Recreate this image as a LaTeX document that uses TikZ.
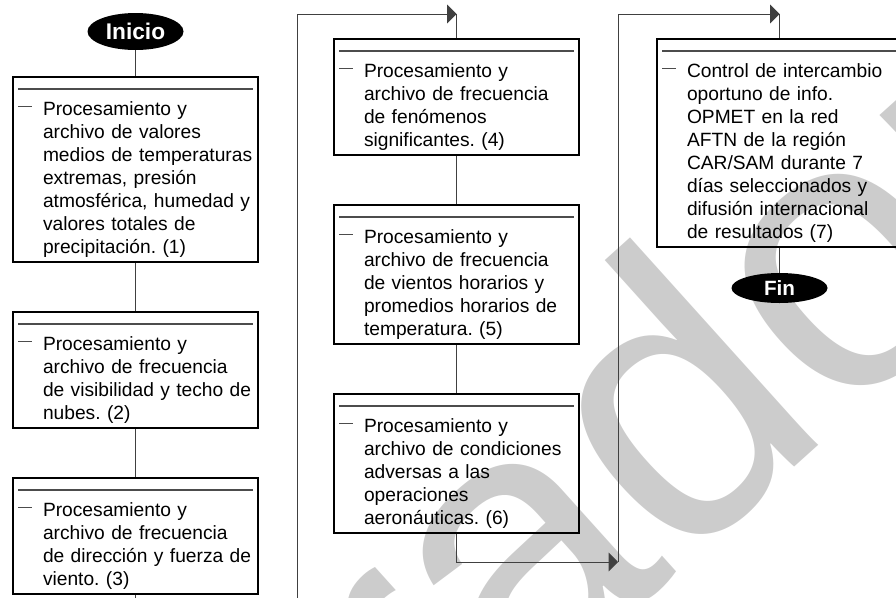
\documentclass[tikz,border=0pt]{standalone}
\usepackage{fontspec}
\setmainfont{Liberation Sans}
\usepackage{tikz}
\usetikzlibrary{positioning}
\usetikzlibrary{shapes.geometric}
\usetikzlibrary{arrows.meta}
\definecolor{marca}{RGB}{204,204,204}
\newcommand{\arriba}{\rule{0pt}{28.5pt}}
\newcommand{\abajo}{\rule[-6.75pt]{0pt}{6.75pt}}
\frenchspacing

\begin{document}
\begin{tikzpicture}[x=0.75pt,y=-0.75pt,node distance=36pt,
  caja/.style={draw,line width=1.5pt,inner sep=0pt,text width=183.75pt,
    font=\fontsize{14.4pt}{17.25pt}\selectfont,
    execute at begin node={\raggedright\leftskip=22.5pt\arriba},
    execute at end node={\abajo},
    path picture={
      \draw[line width=0.8pt,black!70]
        ([xshift=3.75pt,yshift=-9pt]path picture bounding box.north west) --
        ([xshift=-3.75pt,yshift=-9pt]path picture bounding box.north east)
        ([xshift=3.75pt,yshift=-22.25pt]path picture bounding box.north west) --
        ([xshift=14.25pt,yshift=-22.25pt]path picture bounding box.north west);}},
  extremo/.style={ellipse,fill=black,text=white,inner sep=0pt,minimum width=72pt},
  flujo/.style={line width=0.75pt,black!75},
  punta/.style={flujo,-{Triangle[length=7pt,width=14pt]}}]
  \useasboundingbox (0,0) rectangle (896,597);
  \clip (0,0) rectangle (896,597);
  \node[text=marca,rotate=42,anchor=base west,inner sep=0pt,
    font=\fontsize{290pt}{290pt}\selectfont] (sello) at (-25,1205) {Borrador};

  \node[extremo,minimum height=27.75pt,font=\fontsize{17pt}{17pt}\selectfont\bfseries] (inicio) at (135.5,31.5) {Inicio};
  \node[caja,anchor=north west] (b1) at (12,76) {Procesamiento y\\archivo de valores\\medios de temperaturas\\extremas, presión\\atmosférica, humedad y\\valores totales de\\precipitación. (1)};
  \node[caja,below=of b1] (b2) {Procesamiento y\\archivo de frecuencia\\de visibilidad y techo de\\nubes. (2)};
  \node[caja,below=of b2] (b3) {Procesamiento y\\archivo de frecuencia\\de dirección y fuerza de\\viento. (3)};

  \node[caja,anchor=north west] (b4) at (333,38) {Procesamiento y\\archivo de frecuencia\\de fenómenos\\significantes. (4)};
  \node[caja,below=of b4] (b5) {Procesamiento y\\archivo de frecuencia\\de vientos horarios y\\promedios horarios de\\temperatura. (5)};
  \node[caja,below=of b5] (b6) {Procesamiento y\\archivo de condiciones\\adversas a las\\operaciones\\aeronáuticas. (6)};

  \node[caja,anchor=north west] (b7) at (656,38) {Control de intercambio\\oportuno de info.\\OPMET en la red\\AFTN de la región\\CAR/SAM durante 7\\días seleccionados y\\difusión internacional\\de resultados (7)};
  \node[extremo,minimum height=22.5pt,font=\fontsize{15.5pt}{15.5pt}\selectfont\bfseries] (fin) at (779.5,288) {Fin};

  \coordinate (tope) at (0,14);
  \coordinate (bajo1) at (297,620);
  \coordinate (bajo2) at (618,562);

  \draw[flujo] (inicio) -- (b1);
  \draw[flujo] (b1) -- (b2);
  \draw[flujo] (b2) -- (b3);
  \draw[punta] (b3.south) |- (bajo1) |- (b4.north |- tope);
  \draw[flujo] (b4.north |- tope) -- (b4);
  \draw[flujo] (b4) -- (b5);
  \draw[flujo] (b5) -- (b6);
  \draw[punta] (b6.south) |- (bajo2);
  \draw[punta] (bajo2) |- (b7.north |- tope);
  \draw[flujo] (b7.north |- tope) -- (b7);
  \draw[flujo] (b7) -- (fin);
\end{tikzpicture}
\end{document}
